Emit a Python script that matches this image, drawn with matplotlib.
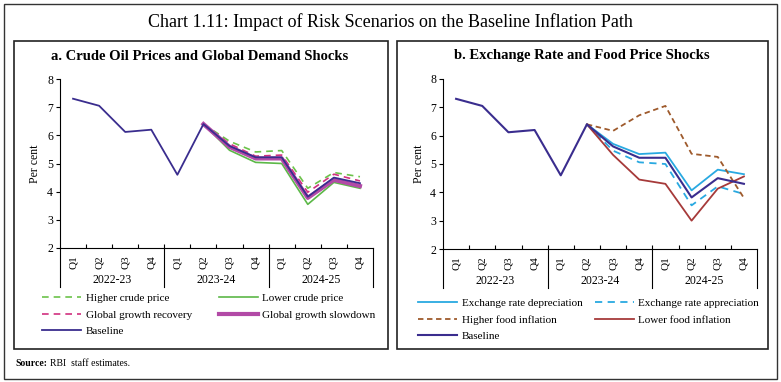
import numpy as np
import matplotlib.pyplot as plt
from matplotlib.patches import Rectangle

plt.rcParams['font.family'] = ['Liberation Serif', 'DejaVu Serif']

quarters = ["Q1", "Q2", "Q3", "Q4"] * 3
years = ["2022-23", "2023-24", "2024-25"]

baseline = [7.3, 7.05, 6.12, 6.2, 4.6, 6.4, 5.62, 5.22, 5.22, 3.82, 4.5, 4.3]

# scenario paths start at Q2 2023-24
start = 5
higher_crude = [6.4, 5.79, 5.41, 5.46, 4.12, 4.68, 4.53]
lower_crude = [6.4, 5.47, 5.04, 5.0, 3.55, 4.33, 4.12]
growth_recovery = [6.4, 5.7, 5.26, 5.3, 3.98, 4.62, 4.38]
growth_slowdown = [6.4, 5.59, 5.18, 5.18, 3.78, 4.42, 4.2]

er_depreciation = [6.4, 5.71, 5.35, 5.4, 4.07, 4.8, 4.64]
er_appreciation = [6.4, 5.47, 5.06, 5.0, 3.54, 4.21, 3.94]
higher_food = [6.4, 6.17, 6.72, 7.05, 5.36, 5.25, 3.8]
lower_food = [6.4, 5.32, 4.45, 4.3, 3.0, 4.13, 4.56]

navy = "#3a2d8e"

fig = plt.figure(figsize=(7.81, 3.82), dpi=100)

# frames
fig.patches.append(Rectangle((4/781, 3/382), 773/781, 375/382, transform=fig.transFigure,
                             fill=False, lw=1.0, ec="#333333"))
fig.patches.append(Rectangle((14/781, 1-349/382), 374/781, 308/382, transform=fig.transFigure,
                             fill=False, lw=1.2, ec="#222222"))
fig.patches.append(Rectangle((397/781, 1-349/382), 371/781, 308/382, transform=fig.transFigure,
                             fill=False, lw=1.2, ec="#222222"))

fig.text(0.5, 1-22/382, "Chart 1.11: Impact of Risk Scenarios on the Baseline Inflation Path",
         ha="center", va="center", fontsize=13)

fig.text(15/781, 1-364/382, "Source:", fontsize=7, fontweight="bold", va="center")
fig.text(50/781, 1-364/382, "RBI  staff estimates.", fontsize=7, va="center")


def setup(ax, title, cx):
    x = np.arange(12)
    ax.set_xlim(-0.5, 11.5)
    ax.set_ylim(2, 8)
    ax.set_yticks(range(2, 9))
    ax.tick_params(axis="y", labelsize=8.5, length=3, width=0.8, pad=2)
    ax.set_xticks(x)
    ax.set_xticklabels(quarters, rotation=90, fontsize=8)
    ax.tick_params(axis="x", which="major", length=0, pad=5)
    ax.set_xticks(np.arange(0.5, 11, 1), minor=True)
    ax.tick_params(axis="x", which="minor", direction="in", length=3, width=0.8)
    for s in ["top", "right"]:
        ax.spines[s].set_visible(False)
    ax.spines["left"].set_linewidth(0.8)
    ax.spines["bottom"].set_linewidth(0.8)
    ax.set_ylabel("Per cent", fontsize=8.5, labelpad=4)
    trans = ax.get_xaxis_transform()
    for b in [-0.5, 3.5, 7.5, 11.5]:
        ax.plot([b, b], [0, -0.23], transform=trans, color="black", lw=0.8, clip_on=False)
    for i, yr in enumerate(years):
        ax.text(4 * i + 1.5, -0.19, yr, transform=trans, ha="center", va="center", fontsize=8.5)
    fig.text(cx, 1-56/382, title, ha="center", va="center", fontsize=10.5, fontweight="bold")


x = np.arange(12)
xs = np.arange(start, 12)

ax1 = fig.add_axes([60/781, 1-248/382, 313/781, 169/382])
setup(ax1, "a. Crude Oil Prices and Global Demand Shocks", 200/781)
l1, = ax1.plot(xs, higher_crude, color="#6cc24a", lw=1.2, ls=(0, (4, 3)))
l2, = ax1.plot(xs, lower_crude, color="#5cb848", lw=1.2)
l3, = ax1.plot(xs, growth_recovery, color="#d1307f", lw=1.2, ls=(0, (4, 3)))
l4, = ax1.plot(xs, growth_slowdown, color="#b24aa6", lw=3.0)
l5, = ax1.plot(x, baseline, color=navy, lw=1.3)
# legend fills column-wise: order so rows read left to right
fig.legend([l1, l3, l5, l2, l4],
           ["Higher crude price", "Global growth recovery", "Baseline",
            "Lower crude price", "Global growth slowdown"],
           ncol=2, loc="upper left", bbox_to_anchor=(38/781, 1-289/382), frameon=False,
           fontsize=8, handlelength=3.5, handletextpad=0.4, columnspacing=2.4,
           labelspacing=0.6, borderaxespad=0)

ax2 = fig.add_axes([443/781, 1-249/382, 314/781, 170/382])
setup(ax2, "b. Exchange Rate and Food Price Shocks", 582/781)
m1, = ax2.plot(xs, er_depreciation, color="#29a9e1", lw=1.3)
m2, = ax2.plot(xs, er_appreciation, color="#29a9e1", lw=1.3, ls=(0, (4, 3)))
m3, = ax2.plot(xs, higher_food, color="#9e5a2c", lw=1.3, ls=(0, (3, 2)))
m4, = ax2.plot(xs, lower_food, color="#a63a3a", lw=1.3)
m5, = ax2.plot(x, baseline, color=navy, lw=1.5)
fig.legend([m1, m3, m5, m2, m4],
           ["Exchange rate depreciation", "Higher food inflation", "Baseline",
            "Exchange rate appreciation", "Lower food inflation"],
           ncol=2, loc="upper left", bbox_to_anchor=(414/781, 1-294/382), frameon=False,
           fontsize=8, handlelength=3.5, handletextpad=0.4, columnspacing=1.1,
           labelspacing=0.6, borderaxespad=0)

fig.savefig("out.png", dpi=100)
